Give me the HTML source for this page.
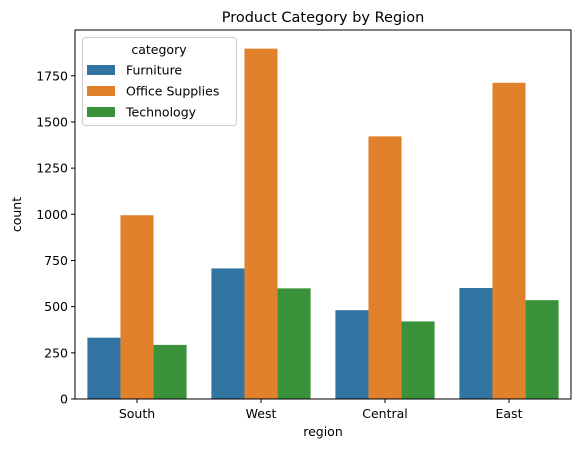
<!DOCTYPE html>
<html><head><meta charset="utf-8"><style>
body{margin:0;background:#fff;font-family:"DejaVu Sans","Liberation Sans",sans-serif;}
svg text{font-family:"DejaVu Sans","Liberation Sans",sans-serif;fill:#000;}
</style></head><body>
<svg id="chart" width="580" height="453" xmlns="http://www.w3.org/2000/svg"></svg>
<script>
const regions = ["South","West","Central","East"];
const seriesNames = ["Furniture","Office Supplies","Technology"];
const furniture = [332,707,481,601];
const officeSupplies = [995,1897,1422,1712];
const technology = [293,599,420,535];
const yTicks = [0,250,500,750,1000,1250,1500,1750];
const colors = ["#3274a1","#e1812c","#3a923a"];
const series = [furniture, officeSupplies, technology];

const L=75, R=571, T=30, B=399;
const yScale = v => B - v*0.1847;
const band = (R-L)/regions.length;
const xCenter = i => L + band*(i+0.5);
const barW = band*0.8/3;
const svg = document.getElementById('chart');
const NS="http://www.w3.org/2000/svg";
function mk(tag, attrs, parent){const e=document.createElementNS(NS,tag);for(const k in attrs)e.setAttribute(k,attrs[k]);(parent||svg).appendChild(e);return e;}

series.forEach((vals,s)=>{
  vals.forEach((v,i)=>{
    const x = xCenter(i) - band*0.4 + s*barW;
    const r = mk('rect',{x:x,y:yScale(v),width:barW,height:B-yScale(v),fill:colors[s]});
    
    
  });
});
const frame = mk('rect',{x:L,y:T,width:R-L,height:B-T,fill:'none',stroke:'#000','stroke-width':1});


yTicks.forEach(t=>{
  const y=yScale(t);
  mk('line',{x1:L-4,x2:L,y1:y,y2:y,stroke:'#000'});
  const tx=mk('text',{x:L-7,y:y+4.5,'text-anchor':'end','font-size':'12.5'});
  tx.textContent=t;
  
  
});
regions.forEach((r,i)=>{
  const x=xCenter(i);
  mk('line',{x1:x,x2:x,y1:B,y2:B+4,stroke:'#000'});
  const tx=mk('text',{x:x,y:B+19,'text-anchor':'middle','font-size':'12.5'});
  tx.textContent=r;
  
  
});
const xt=mk('text',{x:(L+R)/2,y:B+37,'text-anchor':'middle','font-size':'12.5'});xt.textContent='region';


const yt=mk('text',{x:0,y:0,'text-anchor':'middle','font-size':'12.5',transform:`translate(21,${(T+B)/2}) rotate(-90)`});yt.textContent='count';


const tt=mk('text',{x:(L+R)/2,y:22,'text-anchor':'middle','font-size':'14.5'});tt.textContent='Product Category by Region';


const lg=mk('g',{});


mk('rect',{x:82.5,y:37.5,width:154,height:88,rx:3,fill:'#fff','fill-opacity':0.8,stroke:'#ccc'},lg);
const lt=mk('text',{x:159,y:54,'text-anchor':'middle','font-size':'12.5'},lg);lt.textContent='category';
seriesNames.forEach((n,s)=>{
  const y=70+s*21;
  const sw=mk('rect',{x:87,y:y-5,width:28,height:10,fill:colors[s]},lg);
  
  
  const t=mk('text',{x:126,y:y+4.5,'font-size':'12.5'},lg);t.textContent=n;
  
  
});
</script>
</body></html>
